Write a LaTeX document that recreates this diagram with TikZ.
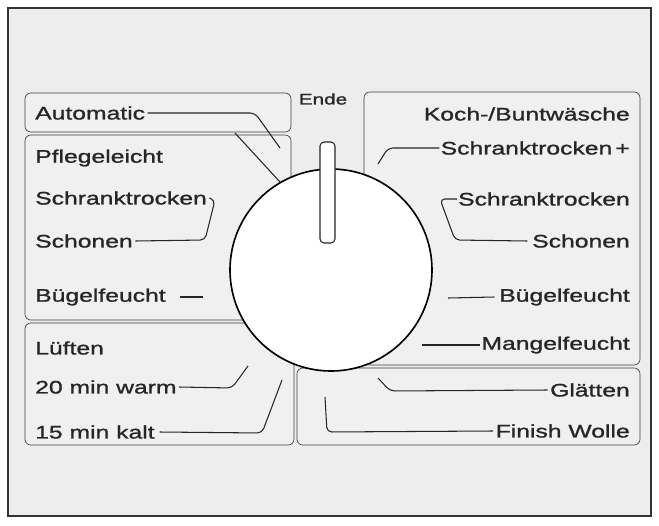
\documentclass[tikz,border=0pt]{standalone}
\usepackage{fontspec}
\setmainfont[FakeStretch=1.36,FakeBold=1.2]{Liberation Sans}

\begin{document}
\begin{tikzpicture}[x=0.03cm,y=-0.03cm,
    panel/.style={draw=black!75,line width=0.6pt,rounded corners=5pt,fill=black!6},
    lead/.style={draw=black!85,line width=0.9pt,rounded corners=4pt},
    lbl/.style={inner sep=0pt,font=\fontsize{15.5}{17}\selectfont,text=black!85},
    lbl left/.style={lbl,anchor=west},
    lbl right/.style={lbl,anchor=east}]
    \useasboundingbox (0,0) rectangle (659,526);
    \draw[fill=black!7,draw=black!80,line width=1pt] (8,8) rectangle (651,516);
    % panels
    \draw[panel] (25,93) rectangle (291,132);
    \draw[panel] (25,135) rectangle (291,320);
    \draw[panel] (25,323) rectangle (294,445);
    \draw[panel] (364,92) rectangle (640,365);
    \draw[panel] (297,368) rectangle (640,445);
    % dial
    \node[circle,draw=black,line width=1.4pt,fill=white,minimum size=202*0.03cm] (dial) at (331,270) {};
    \draw[fill=white,draw=black!85,line width=0.9pt,rounded corners=3.5pt] (320,142) rectangle (335,243);
    \node[lbl,font=\fontsize{13}{15}\selectfont] (ende) at (323,99) {Ende};
    % left labels
    \node[lbl left] (auto) at (35,113) {Automatic};
    \node[lbl left] (pfl) at (35,158) {Pflegeleicht};
    \node[lbl left] (lschr) at (35,198) {Schranktrocken};
    \node[lbl left] (lschon) at (35,241) {Schonen};
    \node[lbl left] (lbuegel) at (35,297) {Bügelfeucht};
    \node[lbl left] (lueft) at (35,348) {Lüften};
    \node[lbl left] (warm) at (35,387) {20 min warm};
    \node[lbl left] (kalt) at (35,432) {15 min kalt};
    % right labels
    \node[lbl right] (koch) at (630,114) {Koch-/Buntwäsche};
    \node[lbl right] (rschrp) at (630,148) {Schranktrocken\,+};
    \node[lbl right] (rschr) at (630,199) {Schranktrocken};
    \node[lbl right] (rschon) at (630,241) {Schonen};
    \node[lbl right] (rbuegel) at (630,297) {Bügelfeucht};
    \node[lbl right] (mangel) at (630,345) {Mangelfeucht};
    \node[lbl right] (glaett) at (630,390) {Glätten};
    \node[lbl right] (wolle) at (630,431) {Finish Wolle};
    % leaders
    \draw[lead] ([xshift=2pt]auto.east) -- (255,113) -- (280,148);
    \draw[lead] (235,133) -- (280,182);
    \draw[lead] ([xshift=2pt]lschr.east) -- (215,200) -- (205,240) -- ([xshift=2pt]lschon.east);
    \draw[lead] (180,297) -- (203,297);
    \draw[lead] ([xshift=2pt]warm.east) -- (232,388) -- (248,366);
    \draw[lead] ([xshift=4pt]kalt.east) -- (262,433) -- (282,380);
    \draw[lead] ([xshift=-1pt]rschrp.west) -- (388,148) -- (378,164);
    \draw[lead] ([xshift=-1pt]rschr.west) -- (440,199) -- (455,240) -- ([xshift=-4pt]rschon.west);
    \draw[lead] (448,298) -- ([xshift=-4pt]rbuegel.west);
    \draw[lead] (422,345) -- ([xshift=-1pt]mangel.west);
    \draw[lead] (378,378) -- (390,391) -- ([xshift=-2pt]glaett.west);
    \draw[lead] (325,397) -- (327,432) -- ([xshift=-2pt]wolle.west);
\end{tikzpicture}
\end{document}
